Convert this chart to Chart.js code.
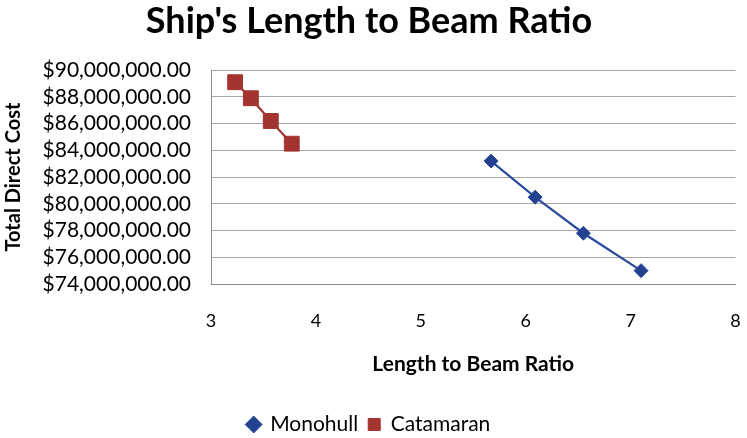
<!DOCTYPE html>
<html>
<head>
<meta charset="utf-8">
<script src="https://cdn.jsdelivr.net/npm/chart.js@4.4.0/dist/chart.umd.min.js"></script>
<style>
  html, body { margin: 0; padding: 0; background: #fff; }
  #wrap { width: 747px; height: 438px; }
</style>
</head>
<body>
<div id="wrap"><canvas id="chart" width="747" height="438"></canvas></div>
<script>
// Length to beam ratio (x) and total direct cost (y) for each hull type
const monohullRatio = [5.67, 6.09, 6.55, 7.10];
const monohullCost = [83200000, 80500000, 77800000, 75000000];
const catamaranRatio = [3.23, 3.38, 3.57, 3.77];
const catamaranCost = [89100000, 87900000, 86200000, 84500000];

const xTicks = [3, 4, 5, 6, 7, 8];
const yTicks = [74000000, 76000000, 78000000, 80000000, 82000000, 84000000, 86000000, 88000000, 90000000];

const FONT = 'Lato, "Open Sans", sans-serif';

function toPoints(xs, ys) {
    return xs.map((x, i) => ({ x: x, y: ys[i] }));
}

const ctx = document.getElementById('chart').getContext('2d');
const chart = new Chart(ctx, {
    type: 'scatter',
    data: {
        datasets: [{
            label: 'Monohull',
            data: toPoints(monohullRatio, monohullCost),
            showLine: true,
            borderColor: '#2a4a9c',
            backgroundColor: '#23418f',
            borderWidth: 2.2,
            pointStyle: 'rectRot',
            pointRadius: 7,
            pointBorderWidth: 1,
        }, {
            label: 'Catamaran',
            data: toPoints(catamaranRatio, catamaranCost),
            showLine: true,
            borderColor: '#a3342f',
            backgroundColor: '#a3342f',
            borderWidth: 2.2,
            pointStyle: 'rect',
            pointRadius: 10.5,
            pointBorderWidth: 1,
        }]
    },
    options: {
        responsive: false,
        animation: false,
        layout: { padding: { left: 0, right: 9, top: 0, bottom: -7 } },
        plugins: {
            title: {
                display: true,
                text: "Ship's Length to Beam Ratio",
                color: '#000',
                font: { family: FONT, size: 36, weight: 'bold' },
                padding: { top: 0, bottom: 27 }
            },
            legend: {
                position: 'bottom',
                labels: {
                    usePointStyle: true,
                    color: '#000',
                    font: { family: FONT, size: 21 },
                    padding: 10,
                    boxWidth: 12,
                    boxHeight: 12
                }
            },
            tooltip: { enabled: false }
        },
        scales: {
            x: {
                type: 'linear',
                min: 3,
                max: 8,
                afterBuildTicks: (scale) => { scale.ticks = xTicks.map(v => ({ value: v })); },
                afterFit: (scale) => { scale.height = 120; },
                ticks: {
                    color: '#000',
                    autoSkip: false,
                    // tall line height pushes the labels down without widening the side padding
                    font: { family: FONT, size: 18, lineHeight: '68px' },
                    padding: 3
                },
                grid: { display: false, drawTicks: false },
                border: { display: true, color: '#8c8c8c', width: 1 },
                title: {
                    display: true,
                    text: 'Length to Beam Ratio',
                    color: '#000',
                    font: { family: FONT, size: 21, weight: 'bold' },
                    padding: { top: 0, bottom: 27 }
                }
            },
            y: {
                type: 'linear',
                min: 74000000,
                max: 90000000,
                afterBuildTicks: (scale) => { scale.ticks = yTicks.map(v => ({ value: v })); },
                afterFit: (scale) => { scale.width = 211; },
                ticks: {
                    color: '#000',
                    autoSkip: false,
                    font: { family: FONT, size: 21 },
                    padding: 20,
                    callback: (v) => '$' + Number(v).toLocaleString('en-US', { minimumFractionDigits: 2, maximumFractionDigits: 2 })
                },
                grid: { color: '#a6a6a6', lineWidth: 1, drawTicks: false },
                border: { display: true, color: '#8c8c8c', width: 1 },
                title: {
                    display: true,
                    text: 'Total Direct Cost',
                    color: '#000',
                    font: { family: FONT, size: 20, weight: 'bold' },
                    padding: { top: 2, bottom: 0 }
                }
            }
        }
    }
});
</script>
</body>
</html>
